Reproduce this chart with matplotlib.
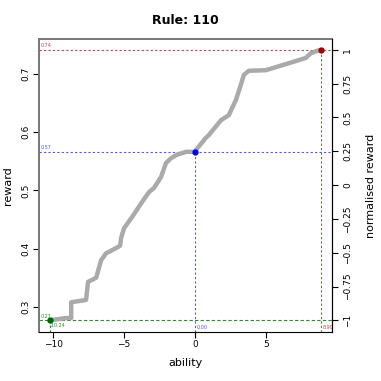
import numpy as np
import matplotlib
matplotlib.use("Agg")
import matplotlib.pyplot as plt

# -----------------------------
# Data
# -----------------------------
ability = [-10.28, -9.08, -8.73, -8.73, -7.68, -7.54, -6.97, -6.62, -6.27, -5.63,
           -5.28, -5.21, -5.00, -4.44, -3.73, -3.24, -2.89, -2.39, -2.04, -1.69,
           -1.27, -0.63, -0.07, 0.00, 0.77, 0.99, 1.83, 2.39, 2.89, 3.24,
           3.45, 3.80, 5.00, 6.62, 7.82, 8.17, 8.59, 8.87]
reward = [0.277, 0.281, 0.281, 0.308, 0.312, 0.343, 0.350, 0.380, 0.392, 0.400,
          0.405, 0.418, 0.435, 0.454, 0.480, 0.497, 0.504, 0.523, 0.547, 0.555,
          0.561, 0.566, 0.566, 0.567, 0.590, 0.595, 0.620, 0.629, 0.655, 0.681,
          0.698, 0.705, 0.706, 0.718, 0.727, 0.735, 0.739, 0.741]

min_pt = (-10.24, 0.277)
mid_pt = (0.00, 0.566)
max_pt = (8.90, 0.741)
min_lab = ("0.27", "-10.24")
mid_lab = ("0.57", "0.00")
max_lab = ("0.74", "8.90")

right_ticks = [-1, -0.75, -0.5, -0.25, 0, 0.25, 0.5, 0.75, 1]
right_labels = ["\u22121", "\u22120.75", "\u22120.5", "\u22120.25", "0", "0.25", "0.5", "0.75", "1"]

# -----------------------------
# Figure
# -----------------------------
fig = plt.figure(figsize=(3.81, 3.81), dpi=100)
ax = fig.add_axes([0.1024, 0.1286, 0.769, 0.769])

xlo, xhi = -11.0, 9.67
ylo, yhi = 0.257, 0.7595
ax.set_xlim(xlo, xhi)
ax.set_ylim(ylo, yhi)

ax.plot(ability, reward, color="#aaaaaa", lw=3.2, solid_capstyle="butt", zorder=2)

red = "#b84a4a"
blue = "#5555ff"
green = "#2e8b2e"

# reference lines
ax.axhline(max_pt[1], color=red, ls=(0, (2, 2)), lw=0.8, zorder=1)
ax.plot([max_pt[0], max_pt[0]], [ylo, max_pt[1]], color=red, ls=(0, (2, 2)), lw=0.8, zorder=1)
ax.axhline(mid_pt[1], color=blue, ls=(0, (2, 2)), lw=0.8, zorder=1)
ax.plot([mid_pt[0], mid_pt[0]], [ylo, mid_pt[1]], color=blue, ls=(0, (2, 2)), lw=0.8, zorder=1)
ax.axhline(min_pt[1], color=green, ls=(0, (3, 2)), lw=0.8, zorder=1)
ax.plot([min_pt[0], min_pt[0]], [ylo, min_pt[1]], color=green, ls=(0, (2, 2)), lw=0.8, zorder=1)

ax.plot(*max_pt, "o", color="#990000", ms=3.5, zorder=3)
ax.plot(*mid_pt, "o", color="#0000ee", ms=3.5, zorder=3)
ax.plot(*min_pt, "o", color="#006400", ms=3.5, zorder=3)

# small value labels
fs = 3.5
ax.text(xlo + 0.12, max_pt[1] + 0.003, max_lab[0], color=red, fontsize=fs, va="bottom")
ax.text(xlo + 0.12, mid_pt[1] + 0.003, mid_lab[0], color=blue, fontsize=fs, va="bottom")
ax.text(xlo + 0.12, min_pt[1] + 0.003, min_lab[0], color=green, fontsize=fs, va="bottom")
ax.text(min_pt[0], min_pt[1] - 0.004, min_lab[1], color=green, fontsize=fs, va="top")
ax.text(mid_pt[0] + 0.1, ylo + 0.004, mid_lab[1], color=blue, fontsize=fs, va="bottom")
ax.text(max_pt[0] + 0.1, ylo + 0.004, max_lab[1], color=red, fontsize=fs, va="bottom")

# axes styling
ax.set_xticks([-10, -5, 0, 5])
ax.set_yticks([0.3, 0.4, 0.5, 0.6, 0.7])
ax.tick_params(labelsize=6.5, length=4, width=0.8, pad=2)
for lab in ax.get_yticklabels():
    lab.set_rotation(90)
    lab.set_va("center")
ax.spines["top"].set_color("#777777")
ax.spines["left"].set_color("#777777")
ax.spines["top"].set_linewidth(1.4)
ax.spines["left"].set_linewidth(1.4)
ax.set_xlabel("ability", fontsize=8, labelpad=6)
ax.set_ylabel("reward", fontsize=8, labelpad=6)
ax.set_title("Rule: 110", fontsize=9, fontweight="bold", pad=11)

# right axis: normalised reward
ax2 = ax.twinx()
ax2.set_ylim(ylo, yhi)
lo, hi = min_pt[1], max_pt[1]
ax2.set_yticks([lo + (t + 1) / 2 * (hi - lo) for t in right_ticks])
ax2.set_yticklabels(right_labels, rotation=90, va="center")
ax2.tick_params(labelsize=6.5, length=4, width=0.8, pad=4)
ax2.set_ylabel("normalised reward", fontsize=8, labelpad=10)
for s in ["top", "left", "bottom"]:
    ax2.spines[s].set_visible(False)

fig.savefig("out.png", dpi=100)
